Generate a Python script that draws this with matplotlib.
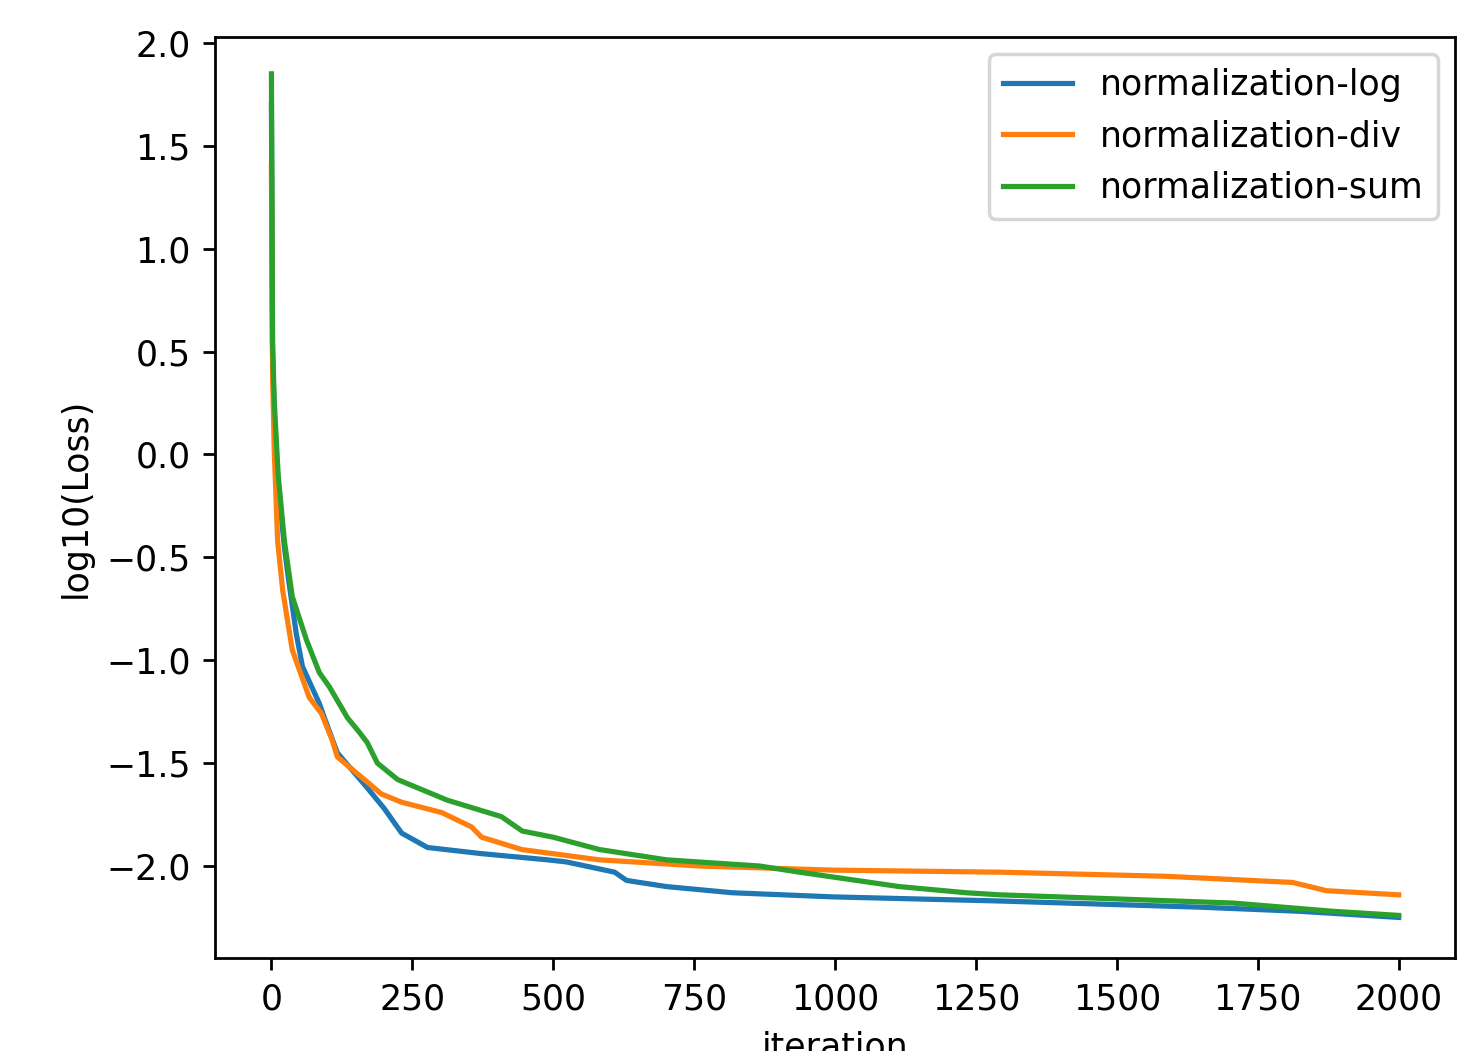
import matplotlib
matplotlib.use("Agg")
import matplotlib.pyplot as plt

# values (iteration, log10 loss)
log_x = [0, 2, 5, 12, 23, 30, 44, 55, 85, 94, 117, 170, 200, 231, 277, 373,
         490, 523, 609, 630, 701, 818, 996, 1292, 1647, 1824, 2000]
log_y = [1.70, 0.50, 0.20, -0.15, -0.45, -0.60, -0.87, -1.03, -1.21, -1.28,
         -1.45, -1.62, -1.72, -1.84, -1.91, -1.94, -1.97, -1.98, -2.03, -2.07,
         -2.10, -2.13, -2.15, -2.17, -2.20, -2.22, -2.25]

div_x = [0, 2, 5, 11, 20, 37, 67, 89, 108, 117, 165, 195, 231, 302, 355, 373,
         444, 582, 760, 996, 1292, 1588, 1812, 1872, 2000]
div_y = [1.40, 0.40, 0.02, -0.42, -0.66, -0.95, -1.18, -1.26, -1.39, -1.47,
         -1.58, -1.65, -1.69, -1.74, -1.81, -1.86, -1.92, -1.97, -2.00, -2.02,
         -2.03, -2.05, -2.08, -2.12, -2.14]

sum_x = [0, 2, 5, 12, 23, 37, 62, 85, 103, 135, 156, 170, 188, 224, 312, 408,
         445, 500, 582, 701, 866, 937, 1114, 1233, 1292, 1706, 1883, 2000]
sum_y = [1.85, 0.55, 0.26, -0.10, -0.42, -0.69, -0.90, -1.06, -1.13, -1.28,
         -1.35, -1.40, -1.50, -1.58, -1.68, -1.76, -1.83, -1.86, -1.92, -1.97,
         -2.00, -2.03, -2.10, -2.13, -2.14, -2.18, -2.22, -2.24]

labels = ["normalization-log", "normalization-div", "normalization-sum"]

fig = plt.figure(figsize=(1476 / 250, 1051 / 250), dpi=250)
ax = fig.add_axes([0.1457, 0.0885, 0.8401, 0.8763])
ax.plot(log_x, log_y, label=labels[0])
ax.plot(div_x, div_y, label=labels[1])
ax.plot(sum_x, sum_y, label=labels[2])
ax.set_xlim(-100, 2100)
ax.set_ylim(-2.447, 2.029)
ax.set_xlabel("iteration")
ax.set_ylabel("log10(Loss)")
ax.legend(loc="upper right")
fig.savefig("out.png", dpi=250)
